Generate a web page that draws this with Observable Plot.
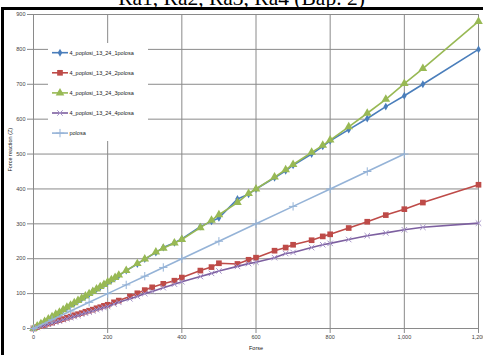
<!DOCTYPE html>
<html><head><meta charset="utf-8">
<script src="https://cdn.jsdelivr.net/npm/d3@7"></script>
<script src="https://cdn.jsdelivr.net/npm/@observablehq/plot@0.6"></script>
<style>
body{margin:0;background:#fff;}
#wrap{position:relative;width:483px;height:355px;overflow:hidden;background:#fff;}
#title{position:absolute;left:0;top:-12px;width:483px;text-align:center;font:21.5px/21.5px "Liberation Serif",serif;color:#000;white-space:nowrap;}
.bd{position:absolute;background:#000;}
svg{position:absolute;left:0;top:0;}
</style>
</head><body><div id="wrap"><div id="title"></div></div>
<script>
const titleText = "Ra1, Ra2, Ra3, Ra4 (Вар. 2)";
const xLabel = "Forse";
const yLabel = "Force reaction (Z)";
const xTicks = [0, 200, 400, 600, 800, 1000, 1200];
const yTicks = [0, 100, 200, 300, 400, 500, 600, 700, 800, 900];
const seriesNames = ["4_poplosi_13_24_1polosa", "4_poplosi_13_24_2polosa", "4_poplosi_13_24_3polosa", "4_poplosi_13_24_4polosa", "polosa"];
const seriesColors = ["#4A7EBB", "#BE4B48", "#98B954", "#7D60A0", "#95B3D7"];
const markerColors = ["#4A7EBB", "#BE4B48", "#98B954", "#A592C8", "#95B3D7"];

// series 1 and 3 share forces
const force13 = [0,10,20,30,40,50,60,70,80,90,100,110,120,130,140,150,160,170,180,190,200,210,220,230,250,280,300,330,350,380,400,450,480,500,550,580,600,650,680,700,750,780,800,850,900,950,1000,1050,1200];
const s1 = [0,6,13,20,26,33,40,46,54,60,67,73,80,86,93,99,107,113,119,126,133,139,146,152,166,185,199,218,232,246,257,292,307,317,371,385,400,432,452,468,500,522,538,570,602,636,667,700,800];
const s3 = [0,7,14,20,27,34,41,47,54,61,67,74,80,87,93,100,106,113,120,126,133,140,146,153,166,186,199,219,230,245,255,289,310,326,361,387,400,434,455,470,505,525,540,578,617,657,702,745,880];
// series 2 and 4 share forces
const force24 = [0,10,20,30,40,50,60,70,80,90,100,110,120,130,140,150,160,170,180,190,200,217,230,260,280,300,320,350,380,400,450,480,500,550,580,600,650,680,700,750,780,800,850,900,950,1000,1050,1200];
const s2 = [0,4,7,10,14,17,21,24,27,31,34,38,41,44,48,51,54,58,61,65,68,75,80,92,101,110,118,128,137,146,166,176,187,185,197,203,223,232,240,253,264,270,288,306,325,342,361,412];
const s4 = [0,3,6,9,12,15,18,21,25,28,31,34,37,41,44,47,50,54,57,60,63,70,75,85,92,100,106,117,127,134,149,158,165,178,186,190,203,215,218,232,240,244,255,266,274,283,290,302];
// series 5
const force5 = [0,50,100,150,200,250,300,350,400,500,600,700,800,900,1000];
const s5 = [0,25,50,75,100,125,150,175,200,250,300,350,400,450,500];

const symbols = ["diamond", "square", "triangle", "times", "plus"];
const radii = [2.4, 3.2, 3.2, 2.6, 2.8];

document.getElementById("title").textContent = titleText;

const series = [
  {x: force13, y: s1},
  {x: force24, y: s2},
  {x: force13, y: s3},
  {x: force24, y: s4},
  {x: force5, y: s5}
].map((s, i) => s.x.map((f, j) => ({force: f, value: s.y[j], k: i})));

const marks = [
  Plot.gridX(xTicks, {stroke: "#8a8a8a", strokeOpacity: 1, strokeWidth: 1}),
  Plot.gridY(yTicks, {stroke: "#8a8a8a", strokeOpacity: 1, strokeWidth: 1}),
  Plot.ruleX([0], {stroke: "#8a8a8a"}),
  Plot.ruleY([0], {stroke: "#8a8a8a"}),
  Plot.axisX(xTicks, {tickSize: 5, tickPadding: 2, stroke: "#8a8a8a", fill: "#404040", label: null}),
  Plot.axisY(yTicks, {tickSize: 6, tickPadding: 2, stroke: "#8a8a8a", fill: "#404040", label: null}),
  Plot.text([yLabel], {frameAnchor: "left", dx: -23, rotate: -90, fill: "#202020", fontSize: 5.5}),
  Plot.text([xLabel], {frameAnchor: "bottom", dy: 21, fill: "#202020", fontSize: 5.5})
];
series.forEach((d, i) => {
  marks.push(Plot.line(d, {x: "force", y: "value", stroke: seriesColors[i], strokeWidth: 1.6}));
  const filled = i < 3;
  marks.push(Plot.dot(d, {x: "force", y: "value", symbol: () => symbols[i], r: radii[i],
    fill: filled ? markerColors[i] : "none", stroke: filled ? "none" : markerColors[i], strokeWidth: 1}));
});

const chart = Plot.plot({
  width: 483, height: 355,
  marginLeft: 33, marginRight: 5, marginTop: 14, marginBottom: 27,
  x: {domain: [0, 1200]},
  y: {domain: [0, 900]},
  style: {fontFamily: "'Liberation Sans', Arial, sans-serif", fontSize: "5.5px", background: "transparent"},
  marks
});
const wrap = document.getElementById("wrap");
wrap.appendChild(chart);

// legend overlay
const lg = d3.select(wrap).append("svg").attr("width", 483).attr("height", 355)
  .style("font-family", "'Liberation Sans', Arial, sans-serif").style("font-size", "5.5px");
lg.append("rect").attr("x", 48).attr("y", 43).attr("width", 100).attr("height", 98).attr("fill", "#fff");
const symMap = {diamond: d3.symbolDiamond, square: d3.symbolSquare, triangle: d3.symbolTriangle, times: d3.symbolTimes, plus: d3.symbolPlus};
seriesNames.forEach((name, i) => {
  const y = 52.7 + i * 20.1;
  const g = lg.append("g");
  g.append("line").attr("x1", 52).attr("x2", 68).attr("y1", y).attr("y2", y).attr("stroke", seriesColors[i]).attr("stroke-width", 1.6);
  const filled = i < 3;
  g.append("path").attr("transform", `translate(60,${y})`)
    .attr("d", d3.symbol(symMap[symbols[i]], Math.PI * radii[i] * radii[i])())
    .attr("fill", filled ? markerColors[i] : "none").attr("stroke", filled ? "none" : markerColors[i]);
  g.append("text").attr("x", 69.5).attr("y", y).attr("dy", "0.35em").attr("fill", "#202020").text(name);
});

// frame borders
const topBorder = document.createElement("div"); topBorder.className = "bd";
topBorder.style.cssText = "left:1px;top:7px;width:482px;height:3px;";
wrap.appendChild(topBorder);
const leftBorder = document.createElement("div"); leftBorder.className = "bd";
leftBorder.style.cssText = "left:1px;top:7px;width:3px;height:348px;";
wrap.appendChild(leftBorder);
</script>
</body></html>
